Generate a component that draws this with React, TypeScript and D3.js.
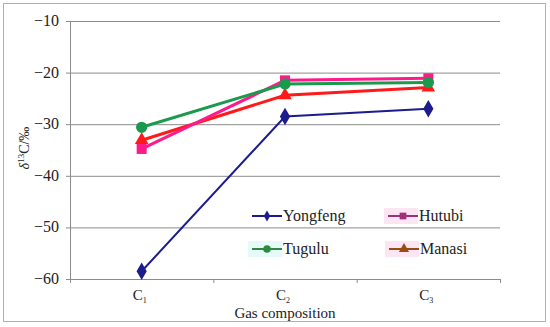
import React, { useEffect, useRef } from "react";
import * as d3 from "d3";

const categories = ["1", "2", "3"];
const yTicks = [-10, -20, -30, -40, -50, -60];
const yongfeng = [-58.5, -28.5, -27.0];
const hutubi = [-34.8, -21.5, -21.1];
const tugulu = [-30.6, -22.2, -21.9];
const manasi = [-33.1, -24.4, -22.9];

const seriesList = [
  { name: "Yongfeng", values: yongfeng, color: "#1c1c8c", legendColor: "#1c1c8c", shape: "diamond", width: 2, bg: "none" },
  { name: "Hutubi", values: hutubi, color: "#ff1a8c", legendColor: "#a0307a", shape: "square", width: 3, bg: "#fde6f4" },
  { name: "Tugulu", values: tugulu, color: "#1a9a4c", legendColor: "#2e8b3e", shape: "circle", width: 3, bg: "#e6fafa" },
  { name: "Manasi", values: manasi, color: "#ff1a1a", legendColor: "#9c4a14", shape: "triangle", width: 3, bg: "#fde6f4" },
];

const FONT = "'Liberation Serif', serif";

const App = () => {
  const ref = useRef<SVGSVGElement>(null);

  useEffect(() => {
    const svg = d3.select(ref.current);
    svg.selectAll("*").remove();
    const left = 70, right = 500, top = 21, bottom = 279;

    svg.append("rect").attr("x", 3.5).attr("y", 3.5).attr("width", 542).attr("height", 318)
      .attr("fill", "none").attr("stroke", "#b0b0b0").attr("stroke-width", 1);

    const xb = d3.scaleBand().domain(categories).range([left, right]);
    const x = (c: string) => (xb(c) as number) + xb.bandwidth() / 2;
    const y = d3.scaleLinear().domain([-60, -10]).range([bottom, top]);

    // gridlines
    svg.append("g").selectAll("line").data(yTicks).enter().append("line")
      .attr("x1", left - 4).attr("x2", right)
      .attr("y1", (d) => y(d) + 0.5).attr("y2", (d) => y(d) + 0.5)
      .attr("stroke", "#8c8c8c").attr("stroke-width", 1);

    // y axis line
    svg.append("line").attr("x1", left + 0.5).attr("x2", left + 0.5).attr("y1", top).attr("y2", bottom + 4)
      .attr("stroke", "#8c8c8c");
    // x ticks at band boundaries
    const bounds = categories.map((c) => xb(c) as number).concat([right]);
    svg.append("g").selectAll("line").data(bounds.slice(1)).enter().append("line")
      .attr("x1", (d) => d + 0.5).attr("x2", (d) => d + 0.5)
      .attr("y1", bottom).attr("y2", bottom + 4).attr("stroke", "#8c8c8c");

    // y tick labels
    svg.append("g").selectAll("text").data(yTicks).enter().append("text")
      .attr("x", left - 11).attr("y", (d) => y(d) + 5)
      .attr("text-anchor", "end").style("font-family", FONT).style("font-size", "16px").attr("fill", "#222")
      .text((d) => "\u2212" + Math.abs(d));

    // x tick labels
    const xl = svg.append("g").selectAll("text").data(categories).enter().append("text")
      .attr("x", (d) => x(d) - 2).attr("y", bottom + 21)
      .attr("text-anchor", "middle").style("font-family", FONT).style("font-size", "15px").attr("fill", "#222");
    xl.append("tspan").text("C");
    xl.append("tspan").style("font-size", "8px").attr("dy", 3).text((d) => d);

    svg.append("text").attr("x", (left + right) / 2).attr("y", 318)
      .attr("text-anchor", "middle").style("font-family", FONT).style("font-size", "15px").attr("fill", "#222")
      .text("Gas composition");

    const yl = svg.append("text").attr("transform", `translate(29,${(top + bottom) / 2 - 2}) rotate(-90)`)
      .attr("text-anchor", "middle").style("font-family", FONT).style("font-size", "14px").attr("fill", "#222");
    yl.append("tspan").attr("font-style", "italic").text("δ");
    yl.append("tspan").style("font-size", "9px").attr("dy", -5).text("13");
    yl.append("tspan").attr("dy", 5).text("C/‰");

    const symbolOf = (shape: string, size: number) => {
      const t = shape === "diamond" ? d3.symbolDiamond : shape === "square" ? d3.symbolSquare
        : shape === "circle" ? d3.symbolCircle : d3.symbolTriangle;
      return d3.symbol().type(t).size(size)();
    };

    const line = d3.line<number>().x((_, i) => x(categories[i])).y((d) => y(d));
    const order = [0, 3, 1, 2];
    order.forEach((k) => {
      const s = seriesList[k];
      const g = svg.append("g");
      g.append("path").datum(s.values).attr("d", line).attr("fill", "none")
        .attr("stroke", s.color).attr("stroke-width", s.width);
      g.selectAll("path.m").data(s.values).enter().append("path").attr("class", "m")
        .attr("transform", (d, i) => `translate(${x(categories[i])},${y(d)})`)
        .attr("d", symbolOf(s.shape, s.shape === "diamond" ? 90 : s.shape === "triangle" ? 80 : 100))
        .attr("fill", s.color);
    });

    // legend
    const legendPos = [
      { lx: 252, ly: 216 },
      { lx: 388, ly: 216 },
      { lx: 252, ly: 249 },
      { lx: 389, ly: 249 },
    ];
    seriesList.forEach((s, i) => {
      const p = legendPos[i];
      const g = svg.append("g").attr("transform", `translate(${p.lx},${p.ly})`);
      if (s.bg !== "none") g.append("rect").attr("x", -4).attr("y", -8).attr("width", 34).attr("height", 16).attr("fill", s.bg);
      g.append("line").attr("x1", 0).attr("x2", 30).attr("y1", 0).attr("y2", 0)
        .attr("stroke", s.legendColor).attr("stroke-width", 2);
      g.append("path").attr("transform", "translate(15,0)").attr("d", symbolOf(s.shape, s.shape === "diamond" ? 35 : 45))
        .attr("fill", s.legendColor);
      g.append("text").attr("x", 31).attr("y", 5).style("font-family", FONT).style("font-size", "16px")
        .attr("fill", "#222").text(s.name);
    });
  }, []);

  return (
    <div style={{ position: "absolute", left: 0, top: 0, width: 550, height: 327, background: "#fff" }}>
      <svg ref={ref} width={550} height={327} style={{ display: "block" }} />
    </div>
  );
};

export default App;
